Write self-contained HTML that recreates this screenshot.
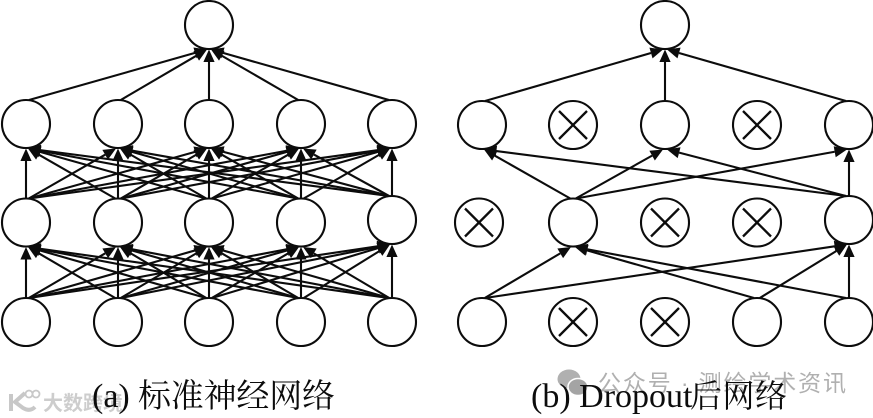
<!DOCTYPE html>
<html>
<head>
<meta charset="utf-8">
<style>
html,body{margin:0;padding:0;background:#fff;width:873px;height:418px;overflow:hidden}
svg{display:block}
.s{font-family:"Liberation Serif","Noto Serif CJK SC",serif;fill:#0c0c0c}
.c{font-family:"Noto Serif CJK SC","Liberation Serif",serif;fill:#0c0c0c}
.w{font-family:"Liberation Sans","Noto Sans CJK SC",sans-serif;fill:#b0b0b0}
</style>
</head>
<body>
<svg id="d" xmlns="http://www.w3.org/2000/svg" width="873" height="418" viewBox="0 0 873 418">
<rect width="873" height="418" fill="#fff"/>
<g id="lines"></g>
<g id="nodes"></g>
<g id="wm">
  <text class="w" x="43" y="410" font-size="20" font-weight="bold" style="fill:#cdcdcd">大数跨境</text>
  <path d="M11 394v17M25 393l-10 9 8 6q7 4 12-1" fill="none" stroke="#c8c8c8" stroke-width="4"/>
  <circle cx="29" cy="394" r="3.5" fill="none" stroke="#c8c8c8" stroke-width="1.8"/>
  <circle cx="36" cy="394" r="3.5" fill="none" stroke="#c8c8c8" stroke-width="1.8"/>
  <ellipse cx="569" cy="379" rx="11.5" ry="9.5" fill="#b0b0b0"/>
  <ellipse cx="578" cy="387" rx="10" ry="8.5" fill="#a4a4a4" stroke="#fff" stroke-width="1.5"/>
  <text class="w" x="598" y="391" font-size="23" textLength="248" lengthAdjust="spacing">公众号 · 测绘学术资讯</text>
</g>
<g id="cap">
  <text class="s" x="92" y="407" font-size="34">(a)</text>
  <text class="c" x="138" y="407" font-size="33" textLength="197">标准神经网络</text>
  <text class="s" x="531" y="407" font-size="34">(b) Dropout</text>
  <text class="c" x="690" y="407" font-size="32" textLength="97">后网络</text>
</g>
</svg>
<script>
(function(){
var NS="http://www.w3.org/2000/svg",L=document.getElementById("lines"),N=document.getElementById("nodes"),ink="#0c0c0c";
function el(p,t,a){var e=document.createElementNS(NS,t);for(var k in a)e.setAttribute(k,a[k]);p.appendChild(e);return e}
function arrow(a,b){
  var dx=a[0]-b[0],off=Math.max(-3,Math.min(3,dx*0.03));
  var sx=a[0]-off,sy=a[1]-a[2];
  var tx=b[0]+(dx===0?0:(dx>0?2:-2)),ty=b[1]+b[2]+0.5;
  var ux=sx-tx,uy=sy-ty,m=Math.sqrt(ux*ux+uy*uy);ux/=m;uy/=m;
  var bx=tx+ux*12.5,by=ty+uy*12.5;
  el(L,"line",{x1:sx,y1:sy,x2:bx,y2:by,stroke:ink,"stroke-width":2.1});
  var nx=-uy*5.6,ny=ux*5.6;
  el(L,"polygon",{points:tx+","+ty+" "+(bx+nx)+","+(by+ny)+" "+(bx-nx)+","+(by-ny),fill:ink});
}
function node(n,x){
  el(N,"circle",{cx:n[0],cy:n[1],r:n[2],fill:"#fff",stroke:ink,"stroke-width":2.1});
  if(x){var d=14;
    el(N,"line",{x1:n[0]-d,y1:n[1]-d,x2:n[0]+d,y2:n[1]+d,stroke:ink,"stroke-width":2.3});
    el(N,"line",{x1:n[0]-d,y1:n[1]+d,x2:n[0]+d,y2:n[1]-d,stroke:ink,"stroke-width":2.3});
  }
}
var r=24,i,j;
/* left network */
var X=[26,118,209,301,392];
var t=[209,25,r];
var r2=X.map(function(x){return [x,124,r]});
var r3=X.map(function(x,k){return [x,k==4?220:222.5,r]});
var r4=X.map(function(x){return [x,322,r]});
r2.forEach(function(n){arrow(n,t)});
for(i=0;i<5;i++)for(j=0;j<5;j++){arrow(r3[i],r2[j]);arrow(r4[i],r3[j])}
[t].concat(r2,r3,r4).forEach(function(n){node(n,false)});
/* right network */
var Y=[482,573,665,757,849];
var T=[665,25,r];
var R2=Y.map(function(x){return [x,125,r]});
var R3=Y.map(function(x,k){return [k==0?479:x,k==4?220:222.5,r]});
var R4=Y.map(function(x){return [x,322,r]});
[0,2,4].forEach(function(k){arrow(R2[k],T)});
[1,4].forEach(function(a){[0,2,4].forEach(function(b){arrow(R3[a],R2[b])})});
[0,3,4].forEach(function(a){[1,4].forEach(function(b){arrow(R4[a],R3[b])})});
node(T,false);
R2.forEach(function(n,k){node(n,k==1||k==3)});
R3.forEach(function(n,k){node(n,k==0||k==2||k==3)});
R4.forEach(function(n,k){node(n,k==1||k==2)});
})();
</script>
</body>
</html>
